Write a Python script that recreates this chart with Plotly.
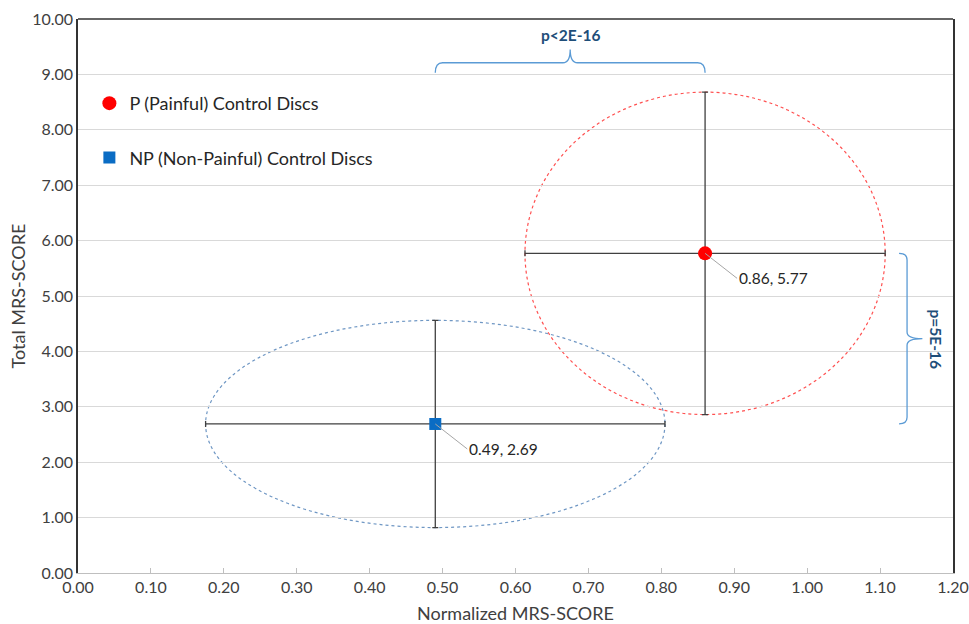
import plotly.graph_objects as go

# ---- data ----
series_names = ["P (Painful) Control Discs", "NP (Non-Painful) Control Discs"]
x_mean = [0.86, 0.49]
y_mean = [5.77, 2.69]
x_err = [0.247, 0.315]
y_err = [2.91, 1.87]
marker_colors = ["#ff0000", "#0a6cc4"]
marker_symbols = ["circle", "square"]
ellipse_colors = ["#ff5050", "#6f97c4"]
p_labels = ["p<2E-16", "p=5E-16"]

FONT = "Lato, Open Sans, sans-serif"
TXT = "#404040"
BRACE = "#5b9bd5"
PTXT = "#1f4e79"

fig = go.Figure()

for i in range(2):
    fig.add_trace(go.Scatter(
        x=[x_mean[i]], y=[y_mean[i]], mode="markers", name=series_names[i],
        legendgroup=f"g{i}",
        marker=dict(color=marker_colors[i], symbol=marker_symbols[i],
                    size=14 if i == 0 else 12),
        error_x=dict(type="data", array=[x_err[i]], color="#404040", thickness=1.3, width=3),
        error_y=dict(type="data", array=[y_err[i]], color="#404040", thickness=1.3, width=3),
    ))

shapes = []
for i in range(2):
    shapes.append(dict(type="circle", xref="x", yref="y", layer="below",
                       x0=x_mean[i] - x_err[i], x1=x_mean[i] + x_err[i],
                       y0=y_mean[i] - y_err[i], y1=y_mean[i] + y_err[i],
                       line=dict(color=ellipse_colors[i], width=1.2, dash="dot")))

# top brace between NP x and P x
xa, xb = x_mean[1], x_mean[0]
xm = (xa + xb) / 2
yb0, yb1, ytip = 9.03, 9.21, 9.45
r = 0.01
path_top = (f"M {xa},{yb0} Q {xa},{yb1} {xa+r},{yb1} L {xm-r},{yb1} Q {xm},{yb1} {xm},{ytip} "
            f"Q {xm},{yb1} {xm+r},{yb1} L {xb-r},{yb1} Q {xb},{yb1} {xb},{yb0}")
shapes.append(dict(type="path", xref="x", yref="y", path=path_top,
                   line=dict(color=BRACE, width=1.3)))

# right brace between P y and NP y
ya, yb = y_mean[0], y_mean[1]
ym = (ya + yb) / 2
xr0, xr1, xtip = 1.126, 1.137, 1.158
ry = 0.12
path_r = (f"M {xr0},{ya} Q {xr1},{ya} {xr1},{ya-ry} L {xr1},{ym+ry} Q {xr1},{ym} {xtip},{ym} "
          f"Q {xr1},{ym} {xr1},{ym-ry} L {xr1},{yb+ry} Q {xr1},{yb} {xr0},{yb}")
shapes.append(dict(type="path", xref="x", yref="y", path=path_r,
                   line=dict(color=BRACE, width=1.3)))

# plot frame top line
shapes.append(dict(type="line", xref="paper", yref="paper", x0=0, x1=1, y0=1, y1=1,
                   line=dict(color="#333333", width=1.5)))

annotations = []
for i in range(2):
    annotations.append(dict(
        x=x_mean[i], y=y_mean[i], xref="x", yref="y",
        text=f"{x_mean[i]:.2f}, {y_mean[i]:.2f}",
        showarrow=True, arrowhead=0, arrowwidth=1, arrowcolor="#a6a6a6",
        ax=32, ay=25, xanchor="left", yanchor="middle",
        font=dict(family=FONT, size=15.5, color="#262626"),
    ))
annotations.append(dict(x=xm, y=9.72, xref="x", yref="y", text=f"<b>{p_labels[0]}</b>",
                        showarrow=False, font=dict(family=FONT, size=15.5, color=PTXT)))
annotations.append(dict(x=1.177, y=ym, xref="x", yref="y", text=f"<b>{p_labels[1]}</b>",
                        showarrow=False, textangle=90,
                        font=dict(family=FONT, size=15.5, color=PTXT)))

fig.update_layout(
    width=969, height=624,
    margin=dict(l=78, r=16, t=19, b=51),
    paper_bgcolor="white", plot_bgcolor="white",
    font=dict(family=FONT, color=TXT),
    shapes=shapes, annotations=annotations,
    legend=dict(x=0.013, y=0.881, xanchor="left", yanchor="top",
                font=dict(family=FONT, size=18, color="#262626"),
                tracegroupgap=28, bgcolor="rgba(0,0,0,0)", itemwidth=30),
    xaxis=dict(range=[0, 1.2], dtick=0.1, tickformat=".2f", showgrid=False,
               showline=True, linecolor="#bfbfbf", linewidth=1,
               ticks="inside", ticklen=5, tickcolor="#bfbfbf", automargin=False,
               tickfont=dict(size=16, color=TXT), zeroline=False,
               title=dict(text="Normalized MRS-SCORE", font=dict(size=18, color=TXT), standoff=12)),
    yaxis=dict(range=[0, 10], dtick=1, tickformat=".2f", showgrid=True,
               gridcolor="#d9d9d9", gridwidth=1, automargin=False,
               showline=True, mirror=True, linecolor="#333333", linewidth=1.5,
               ticks="", tickfont=dict(size=16, color=TXT), zeroline=False,
               title=dict(text="Total MRS-SCORE", font=dict(size=18, color=TXT), standoff=2)),
)

fig.write_html("out.html")
